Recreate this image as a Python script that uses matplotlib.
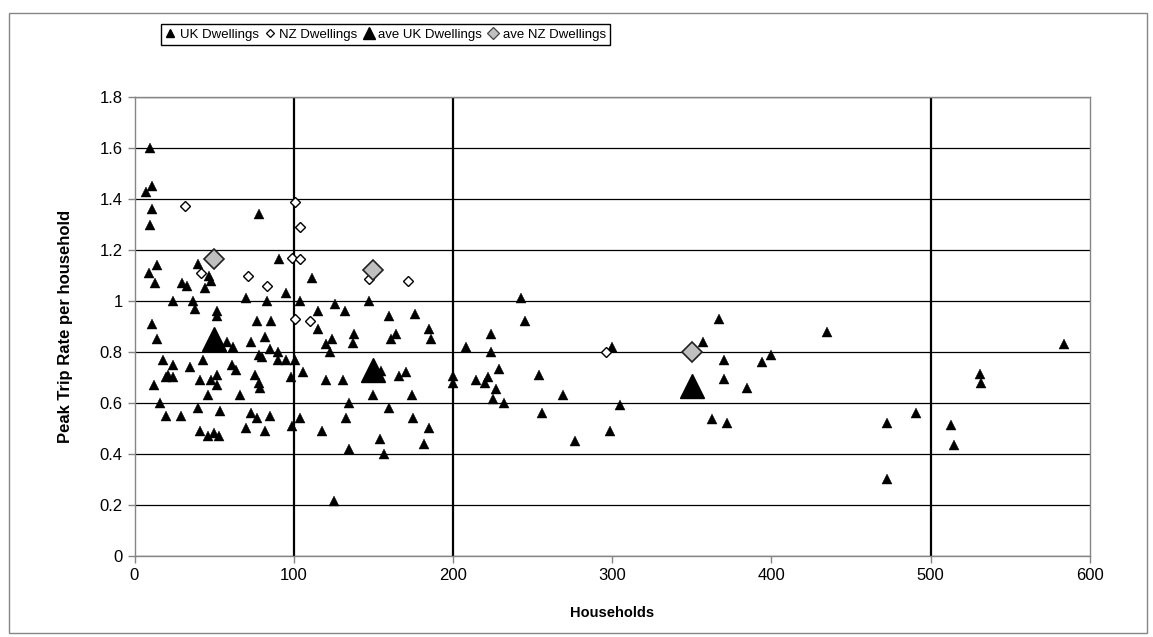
import numpy as np
import matplotlib.pyplot as plt
from matplotlib.lines import Line2D
from matplotlib.patches import Rectangle

plt.rcParams['font.family'] = ['Liberation Sans', 'DejaVu Sans']

#%% data
uk_x = [10, 11, 7, 11, 10, 78, 91, 14, 9, 13, 40, 47, 48, 30, 33, 44, 24, 37, 38, 70,
        83, 95, 104, 111.5, 52, 52, 11, 14, 58, 62, 73, 77, 86, 82, 78, 80, 85, 90, 90, 95,
        101, 106, 98, 18, 24, 43, 35, 61, 64, 21, 20, 24, 41, 48, 52, 52, 76, 78, 79, 12,
        46, 66, 16, 40, 54, 20, 29, 73, 77, 85, 70, 82, 41, 46, 50, 53, 99, 104,
        126, 132, 115, 147, 115, 124, 120, 123, 138, 137, 160, 164, 161, 176, 185, 186, 208,
        120, 131, 155, 166, 170.5, 200, 200, 214.5, 150, 174, 135, 160, 133, 175, 118, 185,
        154, 182, 135, 157, 125,
        243, 245, 224, 224, 229, 220, 222, 227, 254, 269, 300, 357, 367, 370, 370, 384.5,
        394, 400, 225, 232, 256, 277, 298.5, 305, 363, 372,
        435, 584, 531, 532, 491, 472.5, 513, 515, 472.5]
uk_y = [1.60, 1.45, 1.43, 1.36, 1.30, 1.34, 1.165, 1.14, 1.11, 1.07, 1.145, 1.10, 1.08, 1.07, 1.06, 1.05, 1.00, 1.00, 0.97, 1.01,
        1.00, 1.03, 1.00, 1.09, 0.96, 0.94, 0.91, 0.85, 0.84, 0.82, 0.84, 0.92, 0.92, 0.86, 0.79, 0.78, 0.81, 0.80, 0.77, 0.77,
        0.77, 0.72, 0.70, 0.77, 0.75, 0.77, 0.74, 0.75, 0.73, 0.71, 0.70, 0.70, 0.69, 0.69, 0.71, 0.67, 0.71, 0.68, 0.66, 0.67,
        0.63, 0.63, 0.60, 0.58, 0.57, 0.55, 0.55, 0.56, 0.54, 0.55, 0.50, 0.49, 0.49, 0.47, 0.48, 0.47, 0.51, 0.54,
        0.99, 0.96, 0.96, 1.00, 0.89, 0.85, 0.83, 0.80, 0.87, 0.835, 0.94, 0.87, 0.85, 0.95, 0.89, 0.85, 0.82,
        0.69, 0.69, 0.725, 0.705, 0.72, 0.705, 0.68, 0.69, 0.63, 0.63, 0.60, 0.58, 0.54, 0.54, 0.49, 0.50,
        0.46, 0.44, 0.42, 0.40, 0.215,
        1.01, 0.92, 0.87, 0.80, 0.735, 0.68, 0.70, 0.655, 0.71, 0.63, 0.82, 0.84, 0.93, 0.77, 0.695, 0.66,
        0.76, 0.79, 0.615, 0.60, 0.56, 0.45, 0.49, 0.59, 0.535, 0.52,
        0.88, 0.83, 0.715, 0.68, 0.56, 0.52, 0.515, 0.435, 0.30]

nz_x = [32, 42, 71.5, 83, 99, 101, 101, 104, 104, 110, 147, 172, 296]
nz_y = [1.375, 1.11, 1.10, 1.06, 1.17, 1.39, 0.93, 1.29, 1.165, 0.92, 1.085, 1.08, 0.80]

ave_uk_x = [50, 150, 350]
ave_uk_y = [0.85, 0.73, 0.665]
ave_nz_x = [50, 150, 350]
ave_nz_y = [1.165, 1.12, 0.80]

band_x = [100, 200, 500]
x_ticks = [0, 100, 200, 300, 400, 500, 600]
y_ticks = [0, 0.2, 0.4, 0.6, 0.8, 1.0, 1.2, 1.4, 1.6, 1.8]
labels = ["UK Dwellings", "NZ Dwellings", "ave UK Dwellings", "ave NZ Dwellings"]

#%%
fig = plt.figure(figsize=(11.53, 6.37), dpi=100)
ax = fig.add_axes([134.5 / 1153, 1 - 555.7 / 637, 955.2 / 1153, 458.4 / 637])

ax.set_xlim(0, 600)
ax.set_ylim(0, 1.8)
ax.set_xticks(x_ticks)
ax.set_yticks(y_ticks)
ax.set_yticklabels([f"{v:g}" for v in y_ticks])
ax.yaxis.grid(True, color="black", lw=0.9)
ax.set_axisbelow(True)
for s in ax.spines.values():
    s.set_color("#868686")
    s.set_linewidth(1.0)
ax.tick_params(colors="#868686", labelcolor="black", labelsize=12, length=5, width=1)

ax.vlines(band_x, 0, 1.8, colors="black", lw=1.6, zorder=2)

ax.plot(uk_x, uk_y, ls="none", marker="^", ms=7.2, color="black", mew=0.3, zorder=3)
ax.plot(nz_x, nz_y, ls="none", marker="D", ms=5.2, mfc="white", mec="black", mew=1.0, zorder=4)
ax.plot(ave_uk_x, ave_uk_y, ls="none", marker="^", ms=17.5, color="black", zorder=5)
ax.plot(ave_nz_x, ave_nz_y, ls="none", marker="D", ms=10.5, mfc="#C0C0C0", mec="#222222", mew=1.2, zorder=6)

ax.set_xlabel("Households", fontsize=10.5, fontweight="bold", labelpad=17)
ax.set_ylabel("Peak Trip Rate per household", fontsize=12, fontweight="bold", labelpad=19)

handles = [
    Line2D([], [], ls="none", marker="^", ms=6, color="black"),
    Line2D([], [], ls="none", marker="D", ms=4.5, mfc="white", mec="black", mew=0.9),
    Line2D([], [], ls="none", marker="^", ms=8, color="black"),
    Line2D([], [], ls="none", marker="D", ms=6.5, mfc="#C0C0C0", mec="#444444", mew=0.9),
]
fig.legend(handles, labels, ncol=4, loc="center", mode="expand",
           bbox_to_anchor=(154 / 1153, 1 - 46 / 637, 463 / 1153, 23 / 637),
           frameon=True, fancybox=False, edgecolor="black", framealpha=1,
           fontsize=9.5, handlelength=0.8, handletextpad=0.3, borderpad=0.35)

fig.patches.append(Rectangle((9 / 1153, 1 - 633 / 637), 1138 / 1153, 620 / 637,
                             transform=fig.transFigure, fill=False,
                             edgecolor="#868686", lw=1.0))

fig.savefig("out.png", dpi=100)
